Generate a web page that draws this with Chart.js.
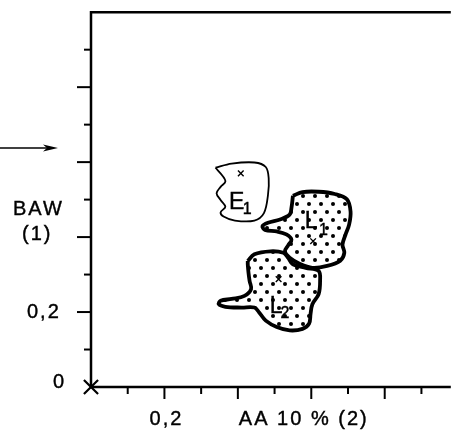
<!DOCTYPE html>
<html>
<head>
<meta charset="utf-8">
<script src="https://cdn.jsdelivr.net/npm/chart.js@4.4.1/dist/chart.umd.min.js"></script>
<style>
  html, body { margin: 0; padding: 0; background: #fff; }
  #cadre { width: 463px; height: 433px; }
</style>
</head>
<body>
<div id="cadre"><canvas id="graphique" width="463" height="433"></canvas></div>
<script>
// graduations
const xTicks = [0.1, 0.2, 0.3, 0.4, 0.5, 0.6, 0.7, 0.8, 0.9];
const yTicks = [0.1, 0.2, 0.3, 0.4, 0.5, 0.6, 0.7, 0.8, 0.9];
const xLabelValues = [0.2];
const xLabelTexts = ["0,2"];
const yLabelValues = [0, 0.2];
const yLabelTexts = ["0", "0,2"];
const xTitle = "AA 10 % (2)";
const yTitle = ["BAW", "(1)"];
const arrowLevel = 0.638;

// contours des zones
const contourE1 = [
  {x:0.339,y:0.585},{x:0.383,y:0.596},{x:0.445,y:0.599},{x:0.476,y:0.587},
  {x:0.484,y:0.556},{x:0.482,y:0.512},{x:0.471,y:0.464},{x:0.445,y:0.444},
  {x:0.392,y:0.444},{x:0.361,y:0.455},{x:0.353,y:0.466},{x:0.366,y:0.481},
  {x:0.353,y:0.499},{x:0.342,y:0.517},{x:0.353,y:0.534},{x:0.366,y:0.548},
  {x:0.357,y:0.565},{x:0.339,y:0.585}
];
const contourL1 = [
  {x:0.550,y:0.510},{x:0.576,y:0.520},{x:0.620,y:0.521},{x:0.664,y:0.515},
  {x:0.697,y:0.501},{x:0.707,y:0.468},{x:0.703,y:0.433},{x:0.693,y:0.406},
  {x:0.685,y:0.380},{x:0.690,y:0.358},{x:0.679,y:0.337},{x:0.643,y:0.323},
  {x:0.603,y:0.318},{x:0.568,y:0.329},{x:0.541,y:0.345},{x:0.528,y:0.362},
  {x:0.537,y:0.378},{x:0.546,y:0.393},{x:0.532,y:0.407},{x:0.506,y:0.415},
  {x:0.474,y:0.419},{x:0.467,y:0.429},{x:0.482,y:0.438},{x:0.515,y:0.447},
  {x:0.541,y:0.460},{x:0.546,y:0.478},{x:0.550,y:0.510}
];
const contourL2 = [
  {x:0.427,y:0.336},{x:0.445,y:0.354},{x:0.489,y:0.362},{x:0.524,y:0.358},
  {x:0.537,y:0.345},{x:0.550,y:0.327},{x:0.585,y:0.318},{x:0.620,y:0.310},
  {x:0.624,y:0.283},{x:0.620,y:0.248},{x:0.603,y:0.221},{x:0.598,y:0.195},
  {x:0.594,y:0.169},{x:0.576,y:0.155},{x:0.541,y:0.151},{x:0.506,y:0.160},
  {x:0.476,y:0.177},{x:0.458,y:0.199},{x:0.445,y:0.212},{x:0.410,y:0.212},
  {x:0.366,y:0.214},{x:0.348,y:0.221},{x:0.353,y:0.230},{x:0.383,y:0.235},
  {x:0.418,y:0.243},{x:0.436,y:0.261},{x:0.432,y:0.283},{x:0.429,y:0.305},
  {x:0.427,y:0.327},{x:0.427,y:0.336}
];
// centres (croix)
const centres = [{x:0.408,y:0.570},{x:0.605,y:0.389},{x:0.511,y:0.288}];
const origine = [{x:0, y:0}];
// noms des zones
const zoneNames = ["E", "L", "L"];
const zoneIndices = ["1", "1", "2"];
const zoneNamePos = [{x:0.376,y:0.476},{x:0.582,y:0.423},{x:0.487,y:0.198}];
const zoneIndexPos = [{x:0.413,y:0.461},{x:0.621,y:0.405},{x:0.516,y:0.183}];

function motifPoints() {
  const c = document.createElement("canvas");
  c.width = 12; c.height = 16;
  const g = c.getContext("2d");
  g.fillStyle = "#fff";
  g.fillRect(0, 0, 12, 16);
  g.fillStyle = "#000";
  g.beginPath(); g.arc(3, 4, 2, 0, Math.PI * 2); g.fill();
  g.beginPath(); g.arc(9, 12, 2, 0, Math.PI * 2); g.fill();
  return g.createPattern(c, "repeat");
}

function texte(ctx, t, x, y) {
  ctx.fillText(t, x, y);
  ctx.strokeText(t, x, y);
}

const decor = {
  id: "decor",
  afterDatasetsDraw(chart) {
    const ctx = chart.ctx;
    const xs = chart.scales.x, ys = chart.scales.y;
    const a = chart.chartArea;
    ctx.save();
    ctx.strokeStyle = "#000";
    ctx.fillStyle = "#000";

    // axes
    ctx.lineWidth = 2.5;
    ctx.beginPath();
    ctx.moveTo(a.right, a.top);
    ctx.lineTo(a.left, a.top);
    ctx.lineTo(a.left, a.bottom);
    ctx.lineTo(a.right, a.bottom);
    ctx.stroke();

    // graduations
    ctx.lineWidth = 2;
    yTicks.forEach(v => {
      const py = ys.getPixelForValue(v);
      const len = Math.round(v * 10) % 2 === 0 ? 14 : 7;
      ctx.beginPath(); ctx.moveTo(a.left - len, py); ctx.lineTo(a.left, py); ctx.stroke();
    });
    xTicks.forEach(v => {
      const px = xs.getPixelForValue(v);
      const len = Math.round(v * 10) % 2 === 0 ? 12 : 7;
      ctx.beginPath(); ctx.moveTo(px, a.bottom); ctx.lineTo(px, a.bottom + len); ctx.stroke();
    });

    // fleche
    const ay = ys.getPixelForValue(arrowLevel);
    const ax = a.left - 33;
    ctx.lineWidth = 1.5;
    ctx.beginPath(); ctx.moveTo(0, ay); ctx.lineTo(ax - 6, ay); ctx.stroke();
    ctx.beginPath();
    ctx.moveTo(ax, ay);
    ctx.lineTo(ax - 15, ay - 3.5);
    ctx.lineTo(ax - 11, ay);
    ctx.lineTo(ax - 15, ay + 3.5);
    ctx.closePath();
    ctx.fill();

    // textes des axes
    ctx.lineWidth = 0.4;
    ctx.font = '20px "Liberation Sans"';
    ctx.letterSpacing = "2px";
    ctx.textBaseline = "alphabetic";
    ctx.textAlign = "left";
    yLabelValues.forEach((v, i) => {
      const py = ys.getPixelForValue(v);
      if (v === 0) texte(ctx, yLabelTexts[i], a.left - 38, py + 1);
      else texte(ctx, yLabelTexts[i], a.left - 64, py + 6);
    });
    ctx.textAlign = "center";
    xLabelValues.forEach((v, i) => {
      texte(ctx, xLabelTexts[i], xs.getPixelForValue(v) + 2, a.bottom + 38);
    });
    ctx.textAlign = "left";
    texte(ctx, xTitle, xs.getPixelForValue(0.4) + 1, a.bottom + 38);
    texte(ctx, yTitle[0], a.left - 78, ys.getPixelForValue(0.46));
    texte(ctx, yTitle[1], a.left - 69, ys.getPixelForValue(0.3915));

    // noms des zones
    ctx.letterSpacing = "0px";
    zoneNames.forEach((n, i) => {
      ctx.font = '23px "Liberation Sans"';
      texte(ctx, n, xs.getPixelForValue(zoneNamePos[i].x), ys.getPixelForValue(zoneNamePos[i].y));
      ctx.font = '16px "Liberation Sans"';
      texte(ctx, zoneIndices[i], xs.getPixelForValue(zoneIndexPos[i].x), ys.getPixelForValue(zoneIndexPos[i].y));
    });
    ctx.restore();
  }
};

const pointille = motifPoints();

new Chart(document.getElementById("graphique"), {
  type: "line",
  data: {
    datasets: [
      { type: "scatter", data: origine, pointStyle: "crossRot", pointRadius: 10,
        borderColor: "#000", borderWidth: 2.2, clip: false, order: 0 },
      { type: "scatter", data: centres, pointStyle: "crossRot", pointRadius: 4,
        borderColor: "#000", borderWidth: 1.4, order: 0 },
      { data: contourL1, borderColor: "#000", borderWidth: 3.8, backgroundColor: pointille,
        fill: "shape", tension: 0.35, pointRadius: 0, order: 1 },
      { data: contourL2, borderColor: "#000", borderWidth: 3.8, backgroundColor: pointille,
        fill: "shape", tension: 0.35, pointRadius: 0, order: 2 },
      { data: contourE1, borderColor: "#000", borderWidth: 1.8, backgroundColor: "#fff",
        fill: "shape", tension: 0.35, pointRadius: 0, order: 3 }
    ]
  },
  options: {
    responsive: false,
    animation: false,
    events: [],
    layout: { padding: { left: 91, top: 9, right: 0, bottom: 46 } },
    plugins: { legend: { display: false }, tooltip: { enabled: false } },
    scales: {
      x: { type: "linear", min: 0, max: 0.98, display: false },
      y: { type: "linear", min: 0, max: 1, display: false }
    }
  },
  plugins: [decor]
});
</script>
</body>
</html>
